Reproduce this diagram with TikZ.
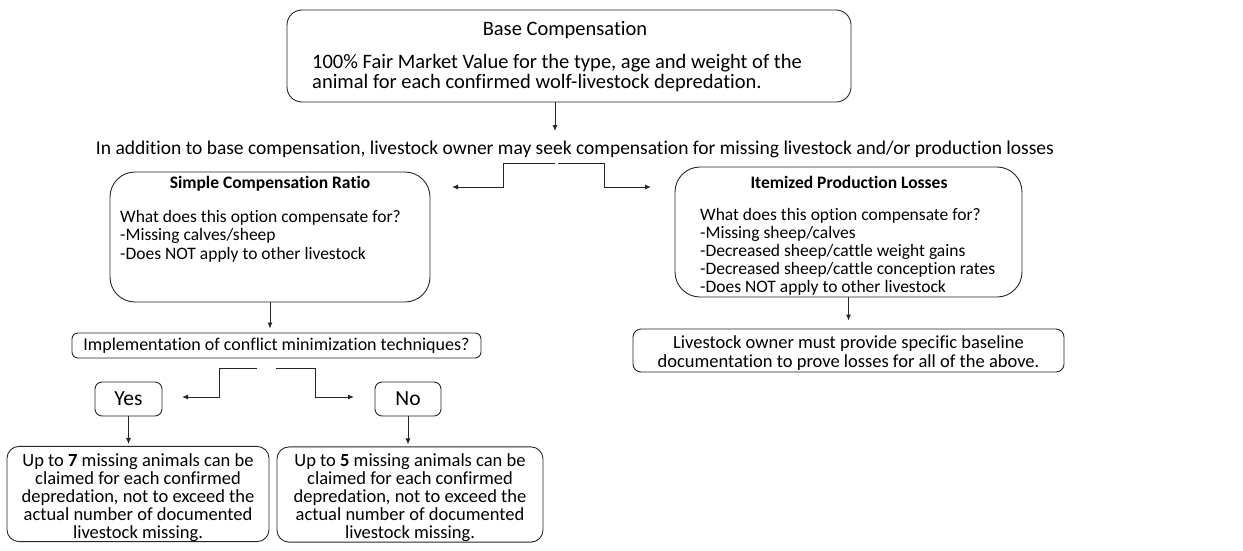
\documentclass[tikz,border=0pt]{standalone}
\usepackage{fontspec}
\setmainfont{Carlito}[Ligatures=NoCommon]
\usetikzlibrary{arrows.meta}

\begin{document}
\begin{tikzpicture}[x=1pt,y=-1pt,
    box/.style={draw=black!85,line width=0.9pt,inner sep=0pt,align=center},
    txt/.style={inner sep=0pt,font=\fontsize{17.5}{18}\selectfont},
    head/.style={inner sep=0pt,font=\fontsize{17.5}{18}\selectfont\bfseries},
    arr/.style={draw=black!85,line width=0.9pt,-{Latex[length=6pt,width=5pt]}}]
\useasboundingbox (0,0) rectangle (1243,550);

% base compensation
\node[box,rounded corners=15pt,minimum width=564pt,minimum height=92pt] (base) at (569,56) {};
\node[txt,font=\fontsize{20.5}{20}\selectfont] (baseHead) at (565,30) {Base Compensation};
\node[txt,font=\fontsize{20.5}{20}\selectfont,align=left,anchor=west] (baseText) at (312,73)
  {100\% Fair Market Value for the type, age and weight of the\\animal for each confirmed wolf-livestock depredation.};

\node[txt,font=\fontsize{19.5}{20}\selectfont] (intro) at (575,149)
  {In addition to base compensation, livestock owner may seek compensation for missing livestock and/or production losses};
\coordinate (introIn) at (555,131);
\draw[arr] (base.south -| introIn) -- (introIn);

% two options
\coordinate (splitL) at (555,163);
\coordinate (splitR) at (558,163);
\coordinate (ratioIn) at (452,187);
\coordinate (itemIn) at (651,187);
\draw[arr] (splitL) -- ++(-52,0) |- (ratioIn);
\draw[arr] (splitR) -- ++(46,0) |- (itemIn);

\node[box,rounded corners=25pt,minimum width=320pt,minimum height=130pt] (ratio) at (270,237) {};
\node[head] (ratioHead) at (270,184) {Simple Compensation Ratio};
\node[txt,font=\fontsize{17.5}{18.5}\selectfont,align=left,anchor=north west] (ratioText) at (120,210)
  {What does this option compensate for?\\-Missing calves/sheep\\-Does NOT apply to other livestock};

\node[box,rounded corners=25pt,minimum width=347pt,minimum height=130pt] (item) at (848.5,232) {};
\node[head] (itemHead) at (849,182) {Itemized Production Losses};
\node[txt,align=left,anchor=north west] (itemText) at (700,208)
  {What does this option compensate for?\\-Missing sheep/calves\\-Decreased sheep/cattle weight gains\\-Decreased sheep/cattle conception rates\\-Does NOT apply to other livestock};

\node[box,rounded corners=8pt,minimum width=431pt,minimum height=43pt,font=\fontsize{18.5}{19}\selectfont] (doc) at (848.5,350.5)
  {\rule{0pt}{17pt}Livestock owner must provide specific baseline\\documentation to prove losses for all of the above.};
\draw[arr,shorten >=8pt] (item.south) -- (doc.north);

% conflict minimization
\node[box,rounded corners=6pt,minimum width=409pt,minimum height=25pt,font=\fontsize{18}{18}\selectfont] (impl) at (276.5,345.5)
  {Implementation of conflict minimization techniques?};
\draw[arr,shorten >=4pt] (ratio.south) -- (ratio.south |- impl.north);

\coordinate (splitYes) at (257,368);
\coordinate (splitNo) at (276,368);
\coordinate (yesIn) at (182,397);
\coordinate (noIn) at (354,397);
\draw[arr] (splitYes) -- ++(-38,0) |- (yesIn);
\draw[arr] (splitNo) -- ++(39,0) |- (noIn);

\node[box,rounded corners=7pt,minimum width=67pt,minimum height=34pt,font=\fontsize{21.5}{22}\selectfont] (yes) at (128.5,399) {Yes};
\node[box,rounded corners=7pt,minimum width=66pt,minimum height=34pt,font=\fontsize{21.5}{22}\selectfont] (no) at (408,399) {No};

\node[box,rounded corners=12pt,minimum width=262pt,minimum height=94pt,font=\fontsize{18.5}{18}\selectfont] (seven) at (138,494)
  {\rule{0pt}{20pt}Up to \textbf{7} missing animals can be\\claimed for each confirmed\\depredation, not to exceed the\\actual number of documented\\livestock missing.};
\node[box,rounded corners=12pt,minimum width=266pt,minimum height=93pt,font=\fontsize{18.5}{18}\selectfont] (five) at (410,494.5)
  {\rule{0pt}{20pt}Up to \textbf{5} missing animals can be\\claimed for each confirmed\\depredation, not to exceed the\\actual number of documented\\livestock missing.};
\draw[arr,shorten >=2pt] (yes.south) -- (yes.south |- seven.north);
\draw[arr,shorten >=2pt] (no.south) -- (no.south |- five.north);
\end{tikzpicture}
\end{document}
